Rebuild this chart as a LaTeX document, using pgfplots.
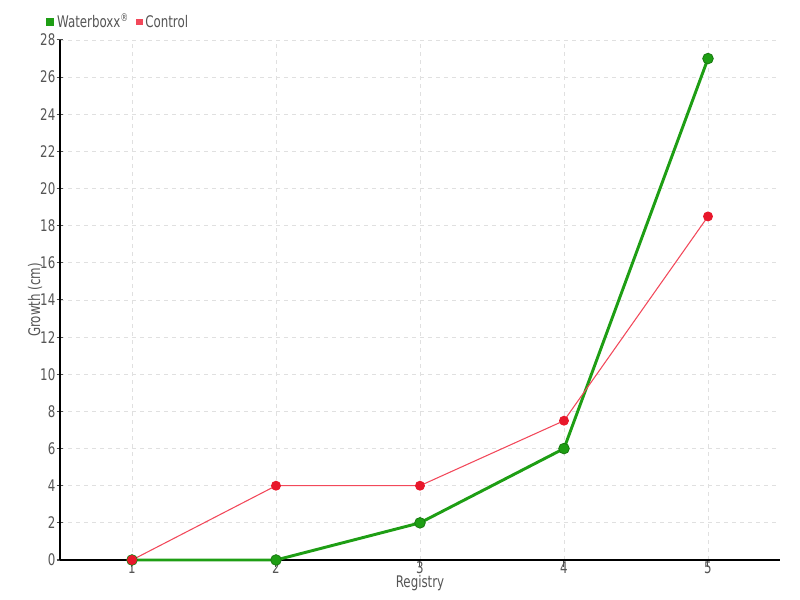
\documentclass[border=0pt]{standalone}
\usepackage{fontspec}
\setmainfont{DejaVu Sans}[FakeStretch=0.74]
\usepackage{pgfplots}
\pgfplotsset{compat=1.18}
\definecolor{txt}{HTML}{555555}
\definecolor{wgreen}{HTML}{1E9E14}
\definecolor{wgreenD}{HTML}{187A10}
\definecolor{cred}{HTML}{E8172B}
\definecolor{credL}{HTML}{F2485A}
\definecolor{gridc}{HTML}{E0E0E0}
\begin{document}
\begin{tikzpicture}
\begin{axis}[
  at={(0pt,0pt)}, anchor=south west,
  scale only axis, width=540pt, height=390pt,
  xmin=0.5, xmax=5.5, ymin=0, ymax=28,
  xtick={1,2,3,4,5}, ytick={0,2,...,28},
  grid=major, grid style={gridc, dash pattern=on 3pt off 3pt, line width=0.6pt},
  axis x line*=bottom, axis y line*=left,
  axis line style={black, line width=0.75pt},
  tick style={black!70, line width=0.75pt}, major tick length=5pt,
  xtick align=outside, ytick align=center,
  ticklabel style={font=\fontsize{12}{14}\selectfont, text=txt},
  xticklabel style={yshift=7.5pt},
  yticklabel style={xshift=2.5pt},
  /pgf/number format/assume math mode=true,
  xlabel={Registry}, ylabel={Growth (cm)},
  label style={font=\fontsize{12}{14}\selectfont, text=txt},
  xlabel style={at={(axis description cs:0.5,-0.0445)}, anchor=center},
  ylabel style={at={(axis description cs:-0.0347,0.5)}, anchor=center},
  clip=false,
  legend style={at={(axis description cs:0,1)}, anchor=west, xshift=-11pt, yshift=13.5pt,
    draw=none, fill=none, inner sep=0pt, font=\fontsize{12}{14}\selectfont, text=txt,
    /tikz/every even column/.append style={column sep=3pt}},
  legend columns=2,
  legend image code/.code={\fill[#1] (0pt,-2.2pt) rectangle (4.4pt,2.2pt);},
]
\addplot[wgreen, line width=2.2pt, mark=*, mark size=4pt,
  mark options={fill=wgreen, draw=wgreenD, line width=0.6pt}]
  coordinates {(1,0) (2,0) (3,2) (4,6) (5,27)};
\addlegendentry{Waterboxx\textsuperscript{®}}
\addplot[credL, line width=0.8pt, mark=*, mark size=3.3pt,
  mark options={fill=cred, draw=cred}]
  coordinates {(1,0) (2,4) (3,4) (4,7.5) (5,18.5)};
\addlegendentry{Control}
\end{axis}
\pgfresetboundingbox
\path[use as bounding box] (-45pt,-30pt) rectangle (555pt,420pt);
\end{tikzpicture}
\end{document}
